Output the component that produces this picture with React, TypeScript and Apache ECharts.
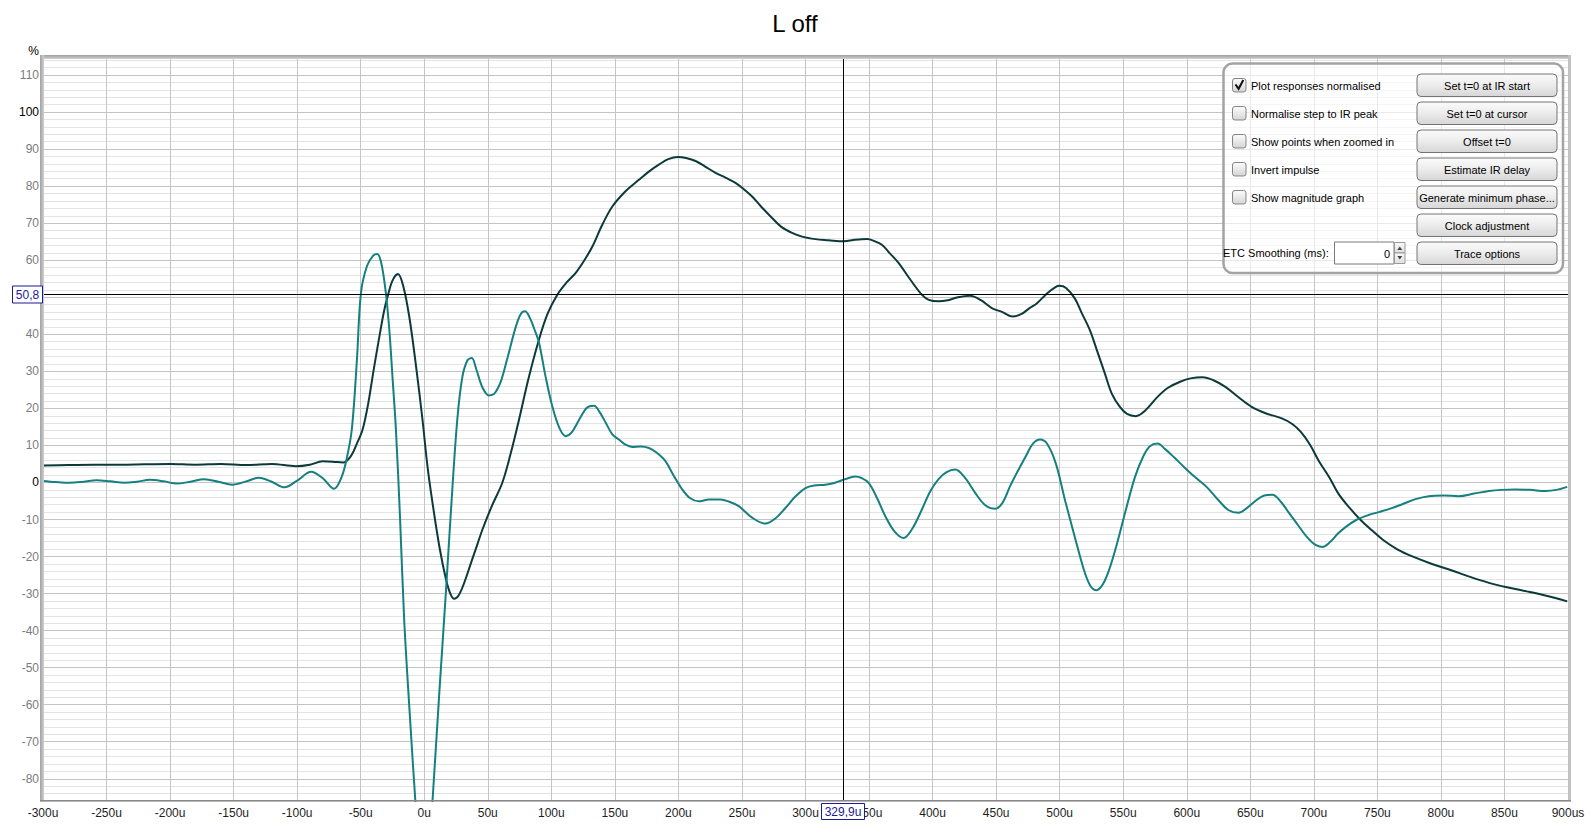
import React, { useEffect, useRef } from "react";
import * as echarts from "echarts";

const TITLE = "L off";
const Y_UNIT = "%";
const X_MIN = -300;
const X_MAX = 900;
const X_STEP = 50;
const Y_MIN = -86;
const Y_MAX = 114.6;
const Y_STEP = 2;
const Y_LABEL_STEP = 10;
const Y_STRONG_LABELS = [0, 100];
const CURSOR_TIME = 329.9;
const CURSOR_VALUE = 50.8;
const CURSOR_TIME_LABEL = "329,9u";
const CURSOR_VALUE_LABEL = "50,8";

// Impulse response (teal)
const impulseTimes = [
  -300, -290, -279, -268, -258, -247, -236, -226, -216, -205, -195, -184, -173, -162, -151, -140, -130, -120, -110, -100,
  -89, -80, -71, -65, -61, -57, -53, -49.8, -45, -40, -37, -34, -30.5, -27.5, -25, -22.3, -19, -15.8, -11.5, -7,
  -3, 0, 3, 6.5, 12, 17, 21.5, 26, 30, 34, 37.4, 41, 46, 51, 55, 60, 65, 72, 76, 79.3,
  83, 86.5, 90.3, 95.5, 100.8, 106, 111.3, 116, 122, 128, 133.6, 138, 143, 148, 153.2, 158, 163.7, 170, 176.8, 183,
  189.9, 196, 203, 209, 216, 224, 233, 240, 247.5, 258, 268.5, 276, 284.2, 292, 300, 307, 315.6, 322, 328.7, 334,
  339.2, 344, 349.7, 356, 362.8, 370, 377.2, 384, 391.6, 398, 404.7, 411, 417.8, 425, 433.5, 441, 449.2, 455, 461, 467.4,
  474, 479, 484.6, 490, 497, 504, 511.9, 519, 524, 529, 534, 539, 544.4, 552, 559.3, 566, 571, 577, 583, 590,
  597.8, 606, 615.6, 625, 633, 640.7, 647, 654, 661, 667.4, 674, 680, 686.7, 694, 701, 706.8, 713, 719, 725.2, 733,
  743, 751, 760.7, 770, 780, 790.4, 802, 814, 826, 837.8, 848, 858.5, 870, 882.2, 891, 899.4,
];
const impulseValues = [
  0.4, 0.1, -0.1, 0.2, 0.6, 0.3, -0.1, 0.2, 0.7, 0.3, -0.3, 0.2, 0.9, 0.2, -0.6, 0.3, 1.3, 0.2, -1.3, 0.5,
  2.9, 1.2, -1.7, 1.5, 6.5, 14.3, 33, 51.2, 58.5, 61.3, 61.7, 59.5, 52, 41.3, 28.5, 14.3, -10, -37, -62, -86,
  -105, -110, -104, -86, -56, -29.8, -5, 17, 28.5, 33, 33.6, 30.5, 25.5, 23.5, 23.9, 27, 33, 42, 45.5, 46.2,
  44.5, 41.5, 37.7, 28.5, 20.5, 15, 12.5, 13.5, 17, 20.2, 20.7, 19, 16, 13, 11.6, 10.3, 9.6, 9.7, 9.3, 8,
  5.7, 2, -1.9, -4.2, -5.1, -4.6, -4.6, -5.2, -6.4, -9.5, -11.1, -9.8, -6.9, -3.8, -1.5, -0.8, -0.6, -0.2, 0.6, 1.2,
  1.6, 1.2, -0.1, -4, -9.1, -13.2, -15, -12.5, -7.3, -2.5, 0.9, 2.8, 3.5, 1.5, -2.8, -6, -7.1, -5.5, -1, 3.3,
  7.5, 10.5, 11.6, 10.5, 5.1, -4.5, -14.7, -23.5, -27.8, -29.1, -27.5, -23.5, -17.4, -7.5, 1.5, 7.2, 9.8, 10.5, 9, 6.8,
  4.2, 1.6, -1.2, -4.8, -7.5, -8.2, -7, -5, -3.5, -3.3, -5.2, -8, -11.1, -14.5, -16.8, -17.4, -16, -13.8, -12, -10.2,
  -8.8, -8, -7, -5.8, -4.5, -3.7, -3.5, -3.7, -3, -2.3, -2, -1.9, -2, -2.3, -2, -1.2,
];

// Step response (dark)
const stepTimes = [
  -300, -280, -260, -240, -220, -200, -180, -160, -140, -120, -101, -90, -80, -72, -64, -58, -53, -48.5, -44, -40,
  -35, -31.5, -28.8, -25, -20.7, -16.5, -11.8, -6.5, -1.4, 2.5, 6.5, 12, 17, 20.5, 23.5, 27, 31, 37, 42, 45.8,
  53, 61.5, 68, 74.6, 82, 90.3, 97, 104.7, 112, 119.2, 126, 132.3, 140, 148, 158, 168.9, 177, 184.6, 192, 199.8,
  206, 213.5, 221, 229.2, 237, 244.9, 251, 258, 265, 273.7, 281, 289.4, 298, 307.8, 318, 330, 339, 348.4, 354, 360.1,
  366, 373.2, 382, 391.5, 397, 404.5, 412, 420, 429.6, 438, 446.6, 455, 463, 470, 476, 482.2, 490, 497, 500, 505,
  511.9, 517, 523.7, 529, 535.6, 541, 547.4, 553, 559.9, 567, 577, 585, 594.8, 603, 612.6, 621, 630.4, 640, 651.1, 662,
  674.8, 683, 689.6, 697, 704.4, 712, 719.3, 728, 737, 746, 754.8, 766, 778.5, 793, 808.1, 823, 837.8, 852, 867.4, 883,
  899.4,
];
const stepValues = [
  4.6, 4.7, 4.8, 4.8, 4.9, 5.0, 4.8, 5.0, 4.7, 5.0, 4.4, 4.8, 5.7, 5.6, 5.4, 7, 10.5, 14.3, 21.5, 30,
  40, 46.5, 50.2, 54.5, 56.3, 53, 44.8, 31.5, 17, 4.5, -5.5, -17.5, -26, -30, -31.4, -30.5, -27.5, -21.5, -16.5, -12.7,
  -6.5, 0, 7.8, 17, 28, 38.6, 45.5, 50.7, 54, 56.6, 60, 63.7, 69.5, 74.5, 78.5, 81.7, 84, 85.8, 87.3, 87.9,
  87.6, 86.8, 85.3, 83.6, 82.3, 80.9, 79.3, 77.2, 74.5, 71.4, 69, 67.4, 66.3, 65.7, 65.4, 65.1, 65.5, 65.7, 65.2, 64.2,
  62, 59.3, 55, 50.7, 49.3, 48.9, 49.2, 50, 50.4, 49.2, 47.1, 46, 44.8, 45.5, 47, 48.4, 51, 52.8, 53.1, 52.5,
  49.7, 46, 41.2, 36, 29.4, 24, 20.4, 18.5, 17.9, 19.3, 23.1, 25.5, 27.2, 28.1, 28.4, 27.6, 25.8, 23.2, 20.4, 18.7,
  17.3, 15.8, 13.7, 10.2, 5.5, 1.5, -3, -6.8, -10.2, -13, -15.6, -18.1, -20.1, -22, -23.7, -25.5, -27.1, -28.3, -29.4, -30.6,
  -32.1,
];

const checkboxLabels = [
  "Plot responses normalised",
  "Normalise step to IR peak",
  "Show points when zoomed in",
  "Invert impulse",
  "Show magnitude graph",
];
const checkboxChecked = [true, false, false, false, false];
const buttonLabels = [
  "Set t=0 at IR start",
  "Set t=0 at cursor",
  "Offset t=0",
  "Estimate IR delay",
  "Generate minimum phase...",
  "Clock adjustment",
  "Trace options",
];
const smoothingLabel = "ETC Smoothing (ms):";
const smoothingValue = "0";

const FONT = '"Liberation Sans", Arial, sans-serif';
const TEAL = "#15807f";
const DARK = "#0c3a3a";

function vGrad(stops: [number, string][]) {
  return new echarts.graphic.LinearGradient(0, 0, 0, 1, stops.map(([offset, color]) => ({ offset, color })));
}
function hGrad(stops: [number, string][]) {
  return new echarts.graphic.LinearGradient(0, 0, 1, 0, stops.map(([offset, color]) => ({ offset, color })));
}

function txt(text: string, x: number, y: number, size: number, fill: string, align = "left") {
  return {
    type: "text",
    z: 30,
    silent: true,
    style: { text, x, y, fill, font: `${size}px ${FONT}`, textAlign: align, textVerticalAlign: "middle" },
  };
}

export default function App() {
  const ref = useRef<HTMLDivElement>(null);
  useEffect(() => {
    document.body.style.margin = "0";
    const el = ref.current as HTMLDivElement;
    const chart = echarts.init(el, null, { renderer: "svg" });

    const impulse = impulseTimes.map((t, i) => [t, impulseValues[i]]);
    const step = stepTimes.map((t, i) => [t, stepValues[i]]);

    const minor = "#e4e4e4";
    const major = "#c4c4c4";
    const cycle = Y_LABEL_STEP / Y_STEP;
    const yColors: string[] = [];
    for (let i = 0; i < cycle; i++) {
      const v = Y_MIN + i * Y_STEP;
      yColors.push(((v % Y_LABEL_STEP) + Y_LABEL_STEP) % Y_LABEL_STEP === 0 ? major : minor);
    }

    chart.setOption({
      animation: false,
      grid: { left: 43, right: 22, top: 58, bottom: 24, containLabel: false },
      xAxis: {
        type: "value",
        min: X_MIN,
        max: X_MAX,
        interval: X_STEP,
        axisLine: { show: false },
        axisTick: { show: false },
        splitLine: { show: true, lineStyle: { color: "#c6c6c6", width: 1 } },
        axisLabel: {
          margin: 6,
          fontSize: 12,
          fontFamily: FONT,
          color: "#1e1e1e",
          showMinLabel: true,
          showMaxLabel: true,
          formatter: (v: number) => (v === X_MAX ? `${v}us` : `${v}u`),
        },
      },
      yAxis: {
        type: "value",
        min: Y_MIN,
        max: Y_MAX,
        interval: Y_STEP,
        axisLine: { show: false },
        axisTick: { show: false },
        splitLine: { show: true, lineStyle: { color: yColors, width: 1 } },
        axisLabel: {
          margin: 4,
          fontSize: 12,
          fontFamily: FONT,
          // the label under the cursor read-out box is hidden, as in the reference
          formatter: (v: number) =>
            Math.abs(v % Y_LABEL_STEP) < 1e-6 && Math.abs(v - CURSOR_VALUE) > 3 ? String(v) : "",
          color: (v: any) => (Y_STRONG_LABELS.includes(Number(v)) ? "#000000" : "#7c7c7c"),
        },
      },
      series: [
        {
          name: "Step",
          type: "line",
          data: step,
          showSymbol: false,
          smooth: 0.35,
          lineStyle: { color: DARK, width: 2 },
          itemStyle: { color: DARK },
          silent: true,
        },
        {
          name: "Impulse",
          type: "line",
          data: impulse,
          showSymbol: false,
          smooth: 0.35,
          lineStyle: { color: TEAL, width: 2 },
          itemStyle: { color: TEAL },
          silent: true,
          markLine: {
            silent: true,
            symbol: ["none", "none"],
            label: { show: false },
            lineStyle: { color: "#000", width: 1, type: "solid" },
            data: [{ xAxis: CURSOR_TIME }, { yAxis: CURSOR_VALUE }],
          },
        },
      ],
    });

    const cx = chart.convertToPixel({ xAxisIndex: 0 }, CURSOR_TIME) as number;
    const cy = chart.convertToPixel({ yAxisIndex: 0 }, CURSOR_VALUE) as number;

    const g: any[] = [];
    // Title and unit
    g.push(txt(TITLE, 795, 23.5, 24, "#000", "center"));
    g.push(txt(Y_UNIT, 33.5, 50.5, 12, "#000", "center"));

    // Frame
    g.push({ type: "rect", z: 20, silent: true, shape: { x: 40, y: 55, width: 1531, height: 4 }, style: { fill: vGrad([[0, "#9e9e9e"], [1, "#d2d2d2"]]) } });
    g.push({ type: "rect", z: 20, silent: true, shape: { x: 40, y: 55, width: 4, height: 746.5 }, style: { fill: hGrad([[0, "#a2a2a2"], [1, "#d0d0d0"]]) } });
    g.push({ type: "rect", z: 20, silent: true, shape: { x: 1568, y: 55, width: 3, height: 746.5 }, style: { fill: "#c2c2c2" } });
    g.push({ type: "rect", z: 20, silent: true, shape: { x: 40, y: 800, width: 1531, height: 1.5 }, style: { fill: "#8a8a8a" } });

    // Cursor labels
    g.push({ type: "rect", z: 25, silent: true, shape: { x: 12.5, y: Math.round(cy) - 8, width: 30, height: 17 }, style: { fill: "#fff", stroke: "#1b1b98", lineWidth: 1 } });
    g.push(txt(CURSOR_VALUE_LABEL, 27.5, Math.round(cy) + 0.5, 12, "#1b1b98", "center"));
    g.push({ type: "rect", z: 25, silent: true, shape: { x: Math.round(cx) - 21.5, y: 803.5, width: 43, height: 16 }, style: { fill: "#fff", stroke: "#1b1b98", lineWidth: 1 } });
    g.push(txt(CURSOR_TIME_LABEL, Math.round(cx), 812, 12, "#1b1b98", "center"));

    // Control panel
    g.push({ type: "rect", z: 20, silent: true, shape: { x: 1223.5, y: 63.5, width: 339.5, height: 209.5, r: 9 }, style: { fill: "rgba(255,255,255,0.62)", stroke: "#a3a3a3", lineWidth: 2.5 } });
    const rows = [85, 113, 141, 169, 197, 225, 253];
    checkboxLabels.forEach((label, i) => {
      const r = rows[i];
      g.push({ type: "rect", z: 25, silent: true, shape: { x: 1232.5, y: r - 6.5, width: 13.5, height: 13.5, r: 2.5 }, style: { fill: vGrad([[0, "#fdfdfd"], [1, "#d4d4d4"]]), stroke: "#858585", lineWidth: 1 } });
      if (checkboxChecked[i]) {
        g.push({ type: "polyline", z: 26, silent: true, shape: { points: [[1235.5, r - 0.5], [1238.6, r + 3.8], [1243.3, r - 5]] }, style: { stroke: "#111", lineWidth: 2, fill: "none" } });
      }
      g.push(txt(label, 1251, r + 0.5, 11, "#000", "left"));
    });
    buttonLabels.forEach((label, i) => {
      const r = rows[i];
      g.push({ type: "rect", z: 25, silent: true, shape: { x: 1417, y: r - 11, width: 140, height: 22.5, r: 4 }, style: { fill: vGrad([[0, "#fbfbfb"], [0.5, "#ececec"], [1, "#d6d6d6"]]), stroke: "#747474", lineWidth: 1 } });
      g.push(txt(label, 1487, r + 0.5, 11, "#000", "center"));
    });
    g.push(txt(smoothingLabel, 1223, 253, 11, "#000", "left"));
    g.push({ type: "rect", z: 25, silent: true, shape: { x: 1334.5, y: 242, width: 59.5, height: 22 }, style: { fill: "#fff", stroke: "#7a7a7a", lineWidth: 1 } });
    g.push(txt(smoothingValue, 1390, 253.5, 11, "#000", "right"));
    g.push({ type: "rect", z: 25, silent: true, shape: { x: 1394.5, y: 242.5, width: 10.5, height: 10.5 }, style: { fill: vGrad([[0, "#fafafa"], [1, "#dedede"]]), stroke: "#9a9a9a", lineWidth: 1 } });
    g.push({ type: "rect", z: 25, silent: true, shape: { x: 1394.5, y: 253, width: 10.5, height: 10.5 }, style: { fill: vGrad([[0, "#fafafa"], [1, "#dedede"]]), stroke: "#9a9a9a", lineWidth: 1 } });
    g.push({ type: "polygon", z: 26, silent: true, shape: { points: [[1397.3, 250], [1402.3, 250], [1399.8, 246.5]] }, style: { fill: "#444" } });
    g.push({ type: "polygon", z: 26, silent: true, shape: { points: [[1397.3, 256], [1402.3, 256], [1399.8, 259.5]] }, style: { fill: "#444" } });

    chart.setOption({ graphic: g });

    return () => {
      chart.dispose();
    };
  }, []);

  return <div ref={ref} style={{ width: 1590, height: 825 }} />;
}
